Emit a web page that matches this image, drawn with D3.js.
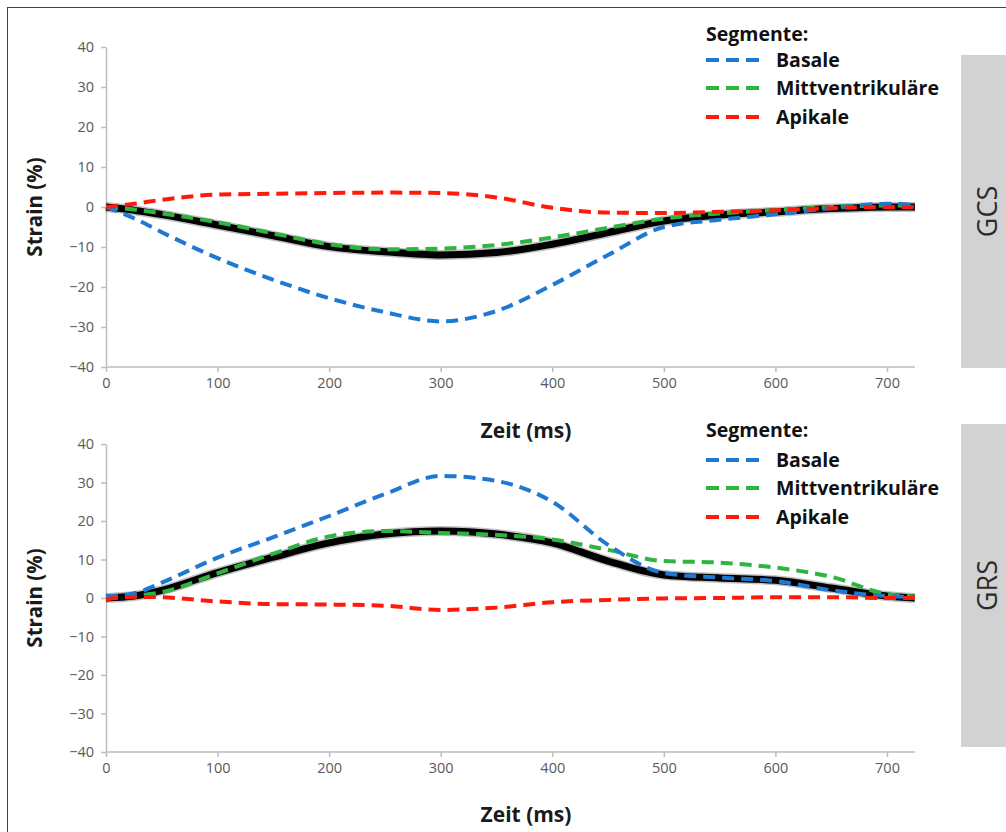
<!DOCTYPE html>
<html><head><meta charset="utf-8">
<script src="https://cdn.jsdelivr.net/npm/d3@7"></script>
<style>body{margin:0;background:#fff}svg{display:block}</style>
</head><body>
<svg id="c" width="1006" height="832"></svg>
<script>
const times = [0,25,50,100,150,200,250,300,350,400,450,500,550,600,650,700,725];
const xTicks = [0,100,200,300,400,500,600,700];
const yTicks = [-40,-30,-20,-10,0,10,20,30,40];
const seriesNames = ["Basale","Mittventrikuläre","Apikale"];
const seriesColors = ["#1f78d1","#2db53f","#ff1a0a"];
// GCS panel
const gcsGlobal = [0,-0.8,-1.9,-4.5,-7.2,-9.9,-11.2,-12,-11.4,-9.3,-6.4,-3.5,-2,-1.2,-0.4,0,0];
const gcsBasale = [0,-2.8,-6.3,-12.8,-18.2,-22.8,-26.3,-28.6,-26,-19.5,-12,-5,-3.2,-1.8,-0.3,0.8,0.5];
const gcsMitt   = [0,-0.6,-1.6,-3.8,-6.6,-9.3,-10.6,-10.4,-9.5,-7.6,-5.2,-2.9,-1.6,-0.8,0,0.4,0.3];
const gcsApikal = [0,0.8,1.8,3.1,3.3,3.5,3.6,3.5,2.4,-0.2,-1.4,-1.5,-1.2,-0.8,-0.3,0,0];
// GRS panel
const grsGlobal = [0,0.5,2,6.6,10.6,14.3,16.6,17.4,16.6,14.3,9.6,6,5.2,4.6,2.6,0.5,0];
const grsBasale = [0.5,1.2,4,10.5,15.8,21.3,27,31.7,30.4,25,13.8,6.5,5.3,4.4,2,0.5,0.2];
const grsMitt   = [0,0.5,1.5,6.4,11.5,16,17.4,16.9,16.4,15.2,12.5,9.6,9.2,7.9,5.5,1,0.4];
const grsApikal = [-0.3,0.3,0.2,-0.9,-1.6,-1.7,-2,-3.1,-2.5,-1.1,-0.5,-0.1,0,0.2,0.2,0,0];

const panels = [
  {label:"GCS", global:gcsGlobal, seg:[gcsBasale,gcsMitt,gcsApikal], top:47, bottom:367,
   legendY:34, legendItems:[60,88,117], zeitY:431, panel:[55,368]},
  {label:"GRS", global:grsGlobal, seg:[grsBasale,grsMitt,grsApikal], top:444, bottom:752,
   legendY:430, legendItems:[460,488,517], zeitY:815, panel:[424,747]}
];

const svg = d3.select("#c");
svg.append("rect").attr("x",7.5).attr("y",7.5).attr("width",1010).attr("height",830)
  .attr("fill","none").attr("stroke","#444").attr("stroke-width",1);

const x = d3.scaleLinear().domain([0,700]).range([106,887]);
const tickFont = "'Open Sans', sans-serif";
const boldFont = "'Open Sans', sans-serif";

panels.forEach(p => {
  const y = d3.scaleLinear().domain([-40,40]).range([p.bottom,p.top]);
  // gray side panel
  svg.append("rect").attr("x",961).attr("y",p.panel[0]).attr("width",60).attr("height",p.panel[1]-p.panel[0])
    .attr("fill","#d2d2d2");
  svg.append("text").attr("transform",`translate(997,${(p.panel[0]+p.panel[1])/2}) rotate(-90)`)
    .attr("text-anchor","middle").attr("font-family",tickFont).attr("font-size",27)
    .attr("fill","#2b2b2b").text(p.label);

  // axes
  const ax = d3.axisBottom(x).tickValues(xTicks).tickSize(5).tickPadding(6).tickSizeOuter(0);
  const gx = svg.append("g").attr("transform",`translate(0,${p.bottom})`).call(ax);
  gx.select(".domain").attr("d",`M106,0H915`);
  const ay = d3.axisLeft(y).tickValues(yTicks).tickSize(5).tickPadding(7).tickSizeOuter(0);
  const gy = svg.append("g").attr("transform",`translate(106,0)`).call(ay);
  [gx,gy].forEach(g=>{
    g.selectAll(".domain").attr("stroke","#bdbdbd").attr("stroke-width",1.5);
    g.selectAll(".tick line").attr("stroke","#bdbdbd").attr("stroke-width",1.5);
    g.selectAll(".tick text").attr("fill","#5a5a5a").attr("font-family",tickFont).attr("font-size",14.5);
  });

  // axis titles
  svg.append("text").attr("transform",`translate(42,${y(0)}) rotate(-90)`)
    .attr("text-anchor","middle").attr("font-family",boldFont).attr("font-weight","bold")
    .attr("font-size",20.5).attr("fill","#1a1a1a").text("Strain (%)");
  svg.append("text").attr("x",526).attr("y",p.zeitY+7).attr("text-anchor","middle")
    .attr("font-family",boldFont).attr("font-weight","bold").attr("font-size",21)
    .attr("fill","#1a1a1a").text("Zeit (ms)");

  const line = d3.line().x((d,i)=>x(times[i])).y(d=>y(d)).curve(d3.curveMonotoneX);
  // global (black thick)
  svg.append("path").attr("d",line(p.global)).attr("fill","none")
    .attr("stroke","#000").attr("stroke-opacity",0.25).attr("stroke-width",10);
  svg.append("path").attr("d",line(p.global)).attr("fill","none")
    .attr("stroke","#000").attr("stroke-width",7);
  const order = [1,0,2];
  order.forEach(k=>{
    svg.append("path").attr("d",line(p.seg[k])).attr("fill","none")
      .attr("stroke",seriesColors[k]).attr("stroke-width",4)
      .attr("stroke-dasharray","12,7");
  });

  // legend
  svg.append("text").attr("x",706).attr("y",p.legendY+7).attr("font-family",boldFont)
    .attr("font-weight","bold").attr("font-size",19.5).attr("fill","#111").text("Segmente:");
  p.legendItems.forEach((ly,k)=>{
    svg.append("line").attr("x1",706).attr("x2",760).attr("y1",ly).attr("y2",ly)
      .attr("stroke",seriesColors[k]).attr("stroke-width",4).attr("stroke-dasharray","13,7");
    svg.append("text").attr("x",776).attr("y",ly+7).attr("font-family",boldFont)
      .attr("font-weight","bold").attr("font-size",19.5).attr("fill","#111").text(seriesNames[k]);
  });
});
</script>
</body></html>
